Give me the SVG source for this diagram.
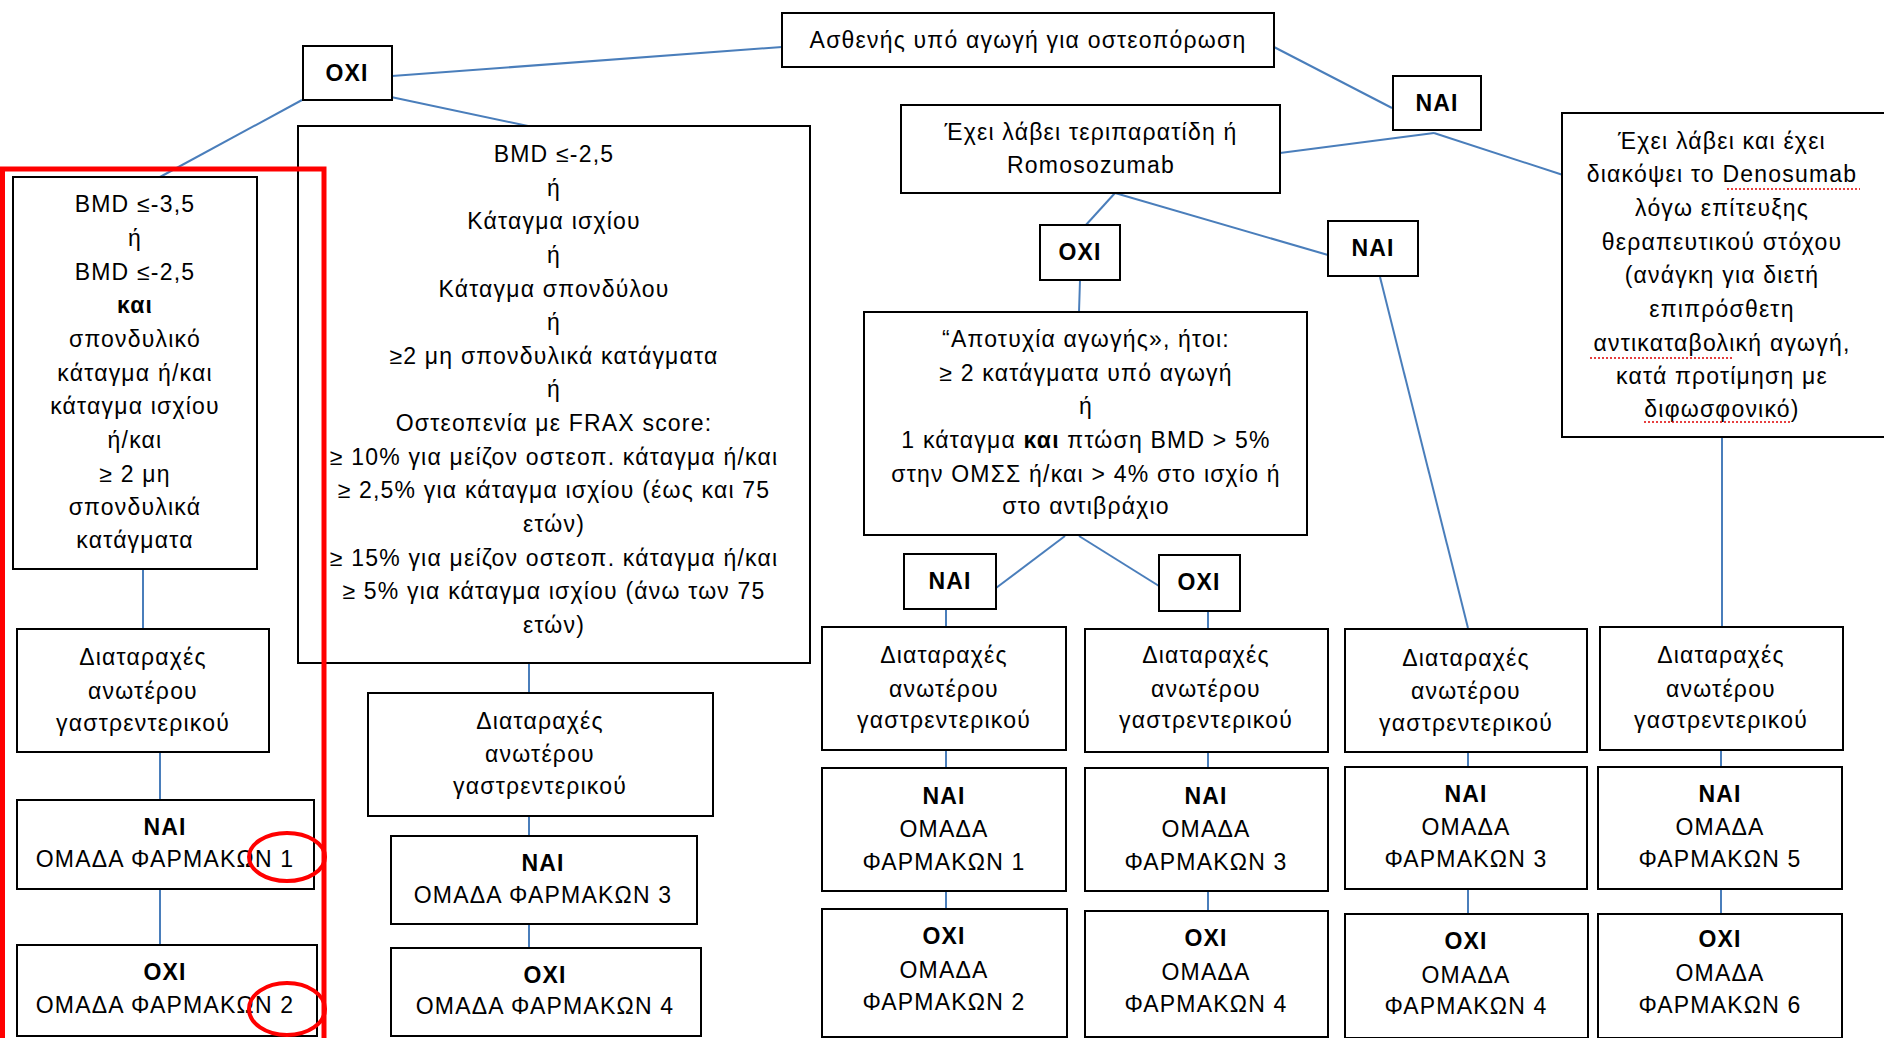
<svg xmlns="http://www.w3.org/2000/svg" width="1884" height="1038" viewBox="0 0 1884 1038">
<style>
.box{fill:#fff;stroke:#000;stroke-width:2}
.t{font-family:"Liberation Sans",Arial,sans-serif;font-size:23px;letter-spacing:1.2px;fill:#000;text-anchor:middle}
.b{font-weight:bold}
.c{stroke:#4A7EBB;stroke-width:2;fill:none}
.red{fill:none;stroke:#FF0000}
.sq{fill:none;stroke:#E00000;stroke-width:1.5;stroke-dasharray:2 2}
</style>
<rect width="1884" height="1038" fill="#fff"/>
<g id="connectors">
<line class="c" x1="392" y1="76" x2="782" y2="47"/>
<line class="c" x1="302" y1="100" x2="160" y2="177"/>
<line class="c" x1="391" y1="97" x2="528" y2="126"/>
<line class="c" x1="1274" y1="47" x2="1392" y2="108"/>
<line class="c" x1="1434" y1="133" x2="1280" y2="153"/>
<line class="c" x1="1434" y1="133" x2="1563" y2="175"/>
<line class="c" x1="1115" y1="193" x2="1085" y2="226"/>
<line class="c" x1="1115" y1="193" x2="1328" y2="255"/>
<line class="c" x1="1080" y1="280" x2="1079" y2="312"/>
<line class="c" x1="1380" y1="277" x2="1468" y2="628"/>
<line class="c" x1="1722" y1="437" x2="1722" y2="627"/>
<line class="c" x1="1065" y1="536" x2="996" y2="588"/>
<line class="c" x1="1079" y1="536" x2="1159" y2="586"/>
<line class="c" x1="946" y1="609" x2="946" y2="627"/>
<line class="c" x1="1208" y1="611" x2="1208" y2="629"/>
<line class="c" x1="946" y1="750" x2="946" y2="768"/>
<line class="c" x1="946" y1="891" x2="946" y2="909"/>
<line class="c" x1="1208" y1="752" x2="1208" y2="768"/>
<line class="c" x1="1208" y1="891" x2="1208" y2="911"/>
<line class="c" x1="1468" y1="752" x2="1468" y2="767"/>
<line class="c" x1="1468" y1="889" x2="1468" y2="914"/>
<line class="c" x1="1721" y1="750" x2="1721" y2="767"/>
<line class="c" x1="1721" y1="889" x2="1721" y2="914"/>
<line class="c" x1="143" y1="569" x2="143" y2="629"/>
<line class="c" x1="160" y1="752" x2="160" y2="800"/>
<line class="c" x1="160" y1="889" x2="160" y2="945"/>
<line class="c" x1="529" y1="663" x2="529" y2="693"/>
<line class="c" x1="529" y1="816" x2="529" y2="836"/>
<line class="c" x1="529" y1="924" x2="529" y2="948"/>
</g>
<g id="n-top"><rect class="box" x="782" y="13" width="492" height="54"/>
<text class="t" x="1028" y="48">Ασθενής υπό αγωγή για οστεοπόρωση</text></g>
<g id="n-oxi-top"><rect class="box" x="303" y="46" width="89" height="54"/>
<text class="t b" x="347" y="81">ΟΧΙ</text></g>
<g id="n-nai-top"><rect class="box" x="1393" y="76" width="88" height="54"/>
<text class="t b" x="1437" y="111">ΝΑΙ</text></g>
<g id="n-left-crit"><rect class="box" x="13" y="177" width="244" height="392"/>
<text class="t" x="135"><tspan x="135" y="212">BMD ≤-3,5</tspan><tspan x="135" y="246">ή</tspan><tspan x="135" y="280">BMD ≤-2,5</tspan><tspan x="135" y="313" class="b">και</tspan><tspan x="135" y="347">σπονδυλικό</tspan><tspan x="135" y="381">κάταγμα  ή/και</tspan><tspan x="135" y="414">κάταγμα  ισχίου</tspan><tspan x="135" y="448">ή/και</tspan><tspan x="135" y="482">≥ 2 μη</tspan><tspan x="135" y="515">σπονδυλικά</tspan><tspan x="135" y="548">κατάγματα</tspan></text></g>
<g id="n-big-crit"><rect class="box" x="298" y="126" width="512" height="537"/>
<text class="t" x="554"><tspan x="554" y="162">BMD ≤-2,5</tspan><tspan x="554" y="196">ή</tspan><tspan x="554" y="229">Κάταγμα ισχίου</tspan><tspan x="554" y="263">ή</tspan><tspan x="554" y="297">Κάταγμα σπονδύλου</tspan><tspan x="554" y="330">ή</tspan><tspan x="554" y="364">≥2 μη σπονδυλικά κατάγματα</tspan><tspan x="554" y="397">ή</tspan><tspan x="554" y="431">Οστεοπενία με FRAX score:</tspan><tspan x="554" y="465">≥ 10% για μείζον οστεοπ. κάταγμα ή/και</tspan><tspan x="554" y="498">≥ 2,5% για κάταγμα ισχίου  (έως και 75</tspan><tspan x="554" y="532">ετών)</tspan><tspan x="554" y="566">≥ 15% για μείζον οστεοπ. κάταγμα ή/και</tspan><tspan x="554" y="599">≥ 5% για κάταγμα ισχίου (άνω των 75</tspan><tspan x="554" y="633">ετών)</tspan></text></g>
<g id="n-romo"><rect class="box" x="901" y="105" width="379" height="88"/>
<text class="t" x="1091"><tspan x="1091" y="140">Έχει λάβει τεριπαρατίδη ή</tspan><tspan x="1091" y="173">Romosozumab</tspan></text></g>
<g id="n-deno"><rect class="box" x="1562" y="113" width="330" height="324"/>
<text class="t" x="1722"><tspan x="1722" y="149">Έχει λάβει και έχει</tspan><tspan x="1722" y="182">διακόψει το Denosumab</tspan><tspan x="1722" y="216">λόγω επίτευξης</tspan><tspan x="1722" y="250">θεραπευτικού στόχου</tspan><tspan x="1722" y="283">(ανάγκη για διετή</tspan><tspan x="1722" y="317">επιπρόσθετη</tspan><tspan x="1722" y="351">αντικαταβολική αγωγή,</tspan><tspan x="1722" y="384">κατά προτίμηση με</tspan><tspan x="1722" y="417">διφωσφονικό)</tspan></text>
<line class="sq" x1="1727" y1="189" x2="1860" y2="189"/>
<line class="sq" x1="1590" y1="358" x2="1733" y2="358"/>
<line class="sq" x1="1644" y1="422" x2="1790" y2="422"/></g>
<g id="n-oxi-mid"><rect class="box" x="1040" y="225" width="80" height="55"/>
<text class="t b" x="1080" y="260">ΟΧΙ</text></g>
<g id="n-nai-mid"><rect class="box" x="1328" y="221" width="90" height="55"/>
<text class="t b" x="1373" y="256">ΝΑΙ</text></g>
<g id="n-fail"><rect class="box" x="864" y="312" width="443" height="223"/>
<text class="t" x="1086"><tspan x="1086" y="347">“Αποτυχία αγωγής», ήτοι:</tspan><tspan x="1086" y="381">≥ 2 κατάγματα  υπό αγωγή</tspan><tspan x="1086" y="414">ή</tspan><tspan x="1086" y="448">1 κάταγμα <tspan class="b">και</tspan> πτώση BMD &gt; 5%</tspan><tspan x="1086" y="482">στην ΟΜΣΣ ή/και &gt; 4% στο ισχίο ή</tspan><tspan x="1086" y="514">στο αντιβράχιο</tspan></text></g>
<g id="n-nai-small"><rect class="box" x="904" y="554" width="92" height="55"/>
<text class="t b" x="950" y="589">ΝΑΙ</text></g>
<g id="n-oxi-small"><rect class="box" x="1159" y="555" width="81" height="56"/>
<text class="t b" x="1199" y="590">ΟΧΙ</text></g>
<g id="n-gi-left"><rect class="box" x="17" y="629" width="252" height="123"/>
<text class="t" x="143"><tspan x="143" y="665">Διαταραχές</tspan><tspan x="143" y="699">ανωτέρου</tspan><tspan x="143" y="731">γαστρεντερικού</tspan></text></g>
<g id="n-nai-left"><rect class="box" x="17" y="800" width="297" height="89"/>
<text class="t" x="165"><tspan x="165" y="835" class="b">ΝΑΙ</tspan><tspan x="165" y="867">ΟΜΑΔΑ ΦΑΡΜΑΚΩΝ 1</tspan></text></g>
<g id="n-oxi-left"><rect class="box" x="17" y="945" width="300" height="91"/>
<text class="t" x="165"><tspan x="165" y="980" class="b">ΟΧΙ</tspan><tspan x="165" y="1013">ΟΜΑΔΑ ΦΑΡΜΑΚΩΝ 2</tspan></text></g>
<g id="n-gi-mid"><rect class="box" x="368" y="693" width="345" height="123"/>
<text class="t" x="540"><tspan x="540" y="729">Διαταραχές</tspan><tspan x="540" y="762">ανωτέρου</tspan><tspan x="540" y="794">γαστρεντερικού</tspan></text></g>
<g id="n-nai-mid2"><rect class="box" x="391" y="836" width="306" height="88"/>
<text class="t" x="543"><tspan x="543" y="871" class="b">ΝΑΙ</tspan><tspan x="543" y="903">ΟΜΑΔΑ ΦΑΡΜΑΚΩΝ 3</tspan></text></g>
<g id="n-oxi-mid2"><rect class="box" x="391" y="948" width="310" height="88"/>
<text class="t" x="545"><tspan x="545" y="983" class="b">ΟΧΙ</tspan><tspan x="545" y="1014">ΟΜΑΔΑ ΦΑΡΜΑΚΩΝ 4</tspan></text></g>
<g id="n-gi-c1"><rect class="box" x="822" y="627" width="244" height="123"/>
<text class="t" x="944"><tspan x="944" y="663">Διαταραχές</tspan><tspan x="944" y="697">ανωτέρου</tspan><tspan x="944" y="728">γαστρεντερικού</tspan></text></g>
<g id="n-nai-c1"><rect class="box" x="822" y="768" width="244" height="123"/>
<text class="t" x="944"><tspan x="944" y="804" class="b">ΝΑΙ</tspan><tspan x="944" y="837">ΟΜΑΔΑ</tspan><tspan x="944" y="870">ΦΑΡΜΑΚΩΝ 1</tspan></text></g>
<g id="n-oxi-c1"><rect class="box" x="822" y="909" width="245" height="128"/>
<text class="t" x="944"><tspan x="944" y="944" class="b">ΟΧΙ</tspan><tspan x="944" y="978">ΟΜΑΔΑ</tspan><tspan x="944" y="1010">ΦΑΡΜΑΚΩΝ 2</tspan></text></g>
<g id="n-gi-c2"><rect class="box" x="1085" y="629" width="243" height="123"/>
<text class="t" x="1206"><tspan x="1206" y="663">Διαταραχές</tspan><tspan x="1206" y="697">ανωτέρου</tspan><tspan x="1206" y="728">γαστρεντερικού</tspan></text></g>
<g id="n-nai-c2"><rect class="box" x="1085" y="768" width="243" height="123"/>
<text class="t" x="1206"><tspan x="1206" y="804" class="b">ΝΑΙ</tspan><tspan x="1206" y="837">ΟΜΑΔΑ</tspan><tspan x="1206" y="870">ΦΑΡΜΑΚΩΝ 3</tspan></text></g>
<g id="n-oxi-c2"><rect class="box" x="1085" y="911" width="243" height="126"/>
<text class="t" x="1206"><tspan x="1206" y="946" class="b">ΟΧΙ</tspan><tspan x="1206" y="980">ΟΜΑΔΑ</tspan><tspan x="1206" y="1012">ΦΑΡΜΑΚΩΝ 4</tspan></text></g>
<g id="n-gi-c3"><rect class="box" x="1345" y="629" width="242" height="123"/>
<text class="t" x="1466"><tspan x="1466" y="666">Διαταραχές</tspan><tspan x="1466" y="699">ανωτέρου</tspan><tspan x="1466" y="731">γαστρεντερικού</tspan></text></g>
<g id="n-nai-c3"><rect class="box" x="1345" y="767" width="242" height="122"/>
<text class="t" x="1466"><tspan x="1466" y="802" class="b">ΝΑΙ</tspan><tspan x="1466" y="835">ΟΜΑΔΑ</tspan><tspan x="1466" y="867">ΦΑΡΜΑΚΩΝ 3</tspan></text></g>
<g id="n-oxi-c3"><rect class="box" x="1345" y="914" width="243" height="124"/>
<text class="t" x="1466"><tspan x="1466" y="949" class="b">ΟΧΙ</tspan><tspan x="1466" y="983">ΟΜΑΔΑ</tspan><tspan x="1466" y="1014">ΦΑΡΜΑΚΩΝ 4</tspan></text></g>
<g id="n-gi-c4"><rect class="box" x="1600" y="627" width="243" height="123"/>
<text class="t" x="1721"><tspan x="1721" y="663">Διαταραχές</tspan><tspan x="1721" y="697">ανωτέρου</tspan><tspan x="1721" y="728">γαστρεντερικού</tspan></text></g>
<g id="n-nai-c4"><rect class="box" x="1598" y="767" width="244" height="122"/>
<text class="t" x="1720"><tspan x="1720" y="802" class="b">ΝΑΙ</tspan><tspan x="1720" y="835">ΟΜΑΔΑ</tspan><tspan x="1720" y="867">ΦΑΡΜΑΚΩΝ 5</tspan></text></g>
<g id="n-oxi-c4"><rect class="box" x="1598" y="914" width="244" height="124"/>
<text class="t" x="1720"><tspan x="1720" y="947" class="b">ΟΧΙ</tspan><tspan x="1720" y="981">ΟΜΑΔΑ</tspan><tspan x="1720" y="1013">ΦΑΡΜΑΚΩΝ 6</tspan></text></g>
<g id="annotations">
<rect class="red" x="2.5" y="169" width="321.5" height="900" stroke-width="5"/>
<ellipse class="red" cx="287" cy="857" rx="38" ry="24" stroke-width="4"/>
<ellipse class="red" cx="287" cy="1009" rx="38" ry="26" stroke-width="4"/>
</g>
</svg>
